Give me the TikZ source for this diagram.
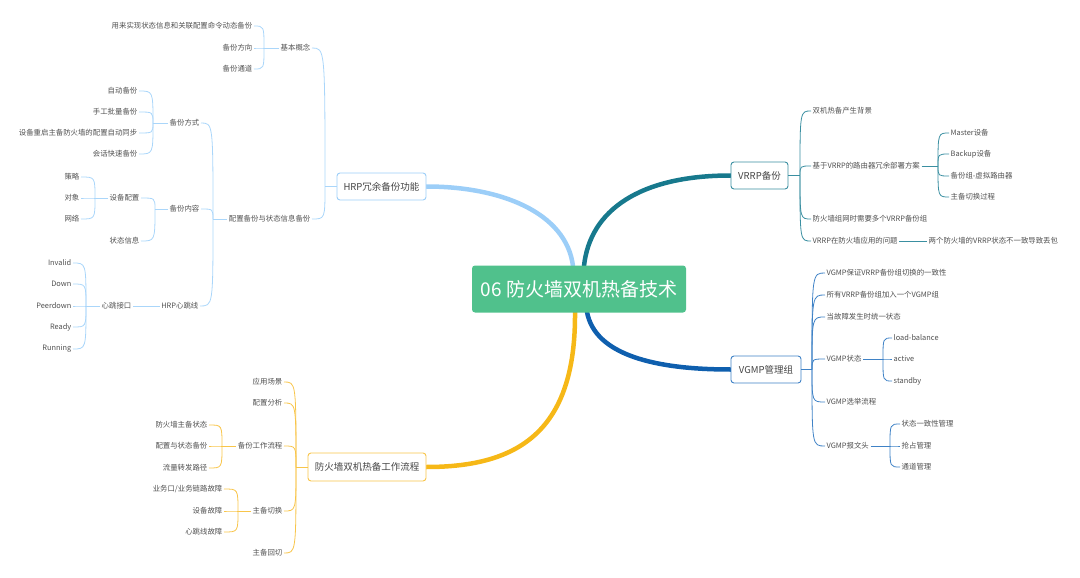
\documentclass[tikz,border=0pt]{standalone}
\usepackage{fontspec}
\setmainfont{Noto Sans CJK SC}
\usetikzlibrary{backgrounds}
\definecolor{tgrey}{HTML}{505050}
\definecolor{bgrey}{HTML}{454545}
\definecolor{mainfill}{HTML}{50C18C}
\definecolor{hrpc}{HTML}{9CCEF8}
\definecolor{hrpt}{HTML}{AAD6FA}
\definecolor{vrc}{HTML}{17798D}
\definecolor{vrt}{HTML}{3A8FA1}
\definecolor{vgc}{HTML}{0F5FAE}
\definecolor{vgt}{HTML}{3F82C6}
\definecolor{wfc}{HTML}{F6B817}
\definecolor{wft}{HTML}{F8C54A}
\newcommand\conn[3]{\draw[#1] (#2) .. controls (#2 |- #3) .. (#3);}
\begin{document}
\begin{tikzpicture}[x=1pt,y=-1pt,
  txt/.style={font=\fontsize{7.4pt}{9pt}\selectfont, text=tgrey, inner sep=1.5pt},
  L/.style={txt, anchor=east},
  R/.style={txt, anchor=west},
  box/.style={draw, rounded corners=3pt, fill=white, line width=0.9pt,
    font=\fontsize{9.5pt}{11pt}\selectfont, text=bgrey, minimum height=27pt, inner sep=0pt},
  mainln/.style={line width=4.5pt, line cap=round},
  hrpl/.style={draw=hrpt, line width=0.8pt},
  vrl/.style={draw=vrt, line width=0.8pt},
  vgl/.style={draw=vgt, line width=0.8pt},
  wfl/.style={draw=wft, line width=0.8pt}]
\useasboundingbox (0,0) rectangle (1080,578);

% ---------- main node and branch boxes ----------
\node[fill=mainfill, rounded corners=3pt, minimum width=214pt, minimum height=47pt,
  text=white, font=\fontsize{19pt}{22pt}\selectfont, inner sep=0pt] (main) at (579,289) {06 防火墙双机热备技术};
\coordinate (mt1) at (573,266);
\coordinate (mt2) at (584,266);
\coordinate (mb1) at (575,312);
\coordinate (mb2) at (587,312);

\node[box, draw=hrpc, minimum width=89pt] (hrp) at (381.5,186.5) {HRP冗余备份功能};
\node[box, draw=vrt, minimum width=57pt] (vr) at (759.5,175.5) {VRRP备份};
\node[box, draw=vgt, minimum width=70pt] (vg) at (766,369.5) {VGMP管理组};
\node[box, draw=wft, minimum width=118pt, minimum height=28pt] (wf) at (367,467) {防火墙双机热备工作流程};

\begin{pgfonlayer}{background}
\draw[mainln, hrpc] (hrp.east) .. controls (500,186.5) and (566,212) .. (mt1);
\draw[mainln, vrc] (mt2) .. controls (590,210) and (640,175.5) .. (vr.west);
\draw[mainln, vgc] (mb2) .. controls (595,355) and (655,369.5) .. (vg.west);
\draw[mainln, wfc] (mb1) .. controls (576,430) and (520,467) .. (wf.east);
\end{pgfonlayer}

% ---------- HRP branch ----------
\coordinate (jhrp) at (325,186.5);
\node[L] (b1) at (312,48) {基本概念};
\node[L] (b1a) at (254,26) {用来实现状态信息和关联配置命令动态备份};
\node[L] (b1b) at (254,48) {备份方向};
\node[L] (b1c) at (254,69) {备份通道};
\coordinate (jb1) at (264,48);
\node[L] (b2) at (312,219) {配置备份与状态信息备份};
\coordinate (jb2) at (213,219);
\node[L] (m) at (201,123) {备份方式};
\coordinate (jm) at (153,123);
\node[L] (m1) at (139,91) {自动备份};
\node[L] (m2) at (139,112) {手工批量备份};
\node[L] (m3) at (139,133) {设备重启主备防火墙的配置自动同步};
\node[L] (m4) at (139,154) {会话快速备份};
\node[L] (c) at (201,209) {备份内容};
\coordinate (jc) at (155,209);
\node[L] (c1) at (141,198) {设备配置};
\coordinate (jc1) at (95,198);
\node[L] (c11) at (81,177) {策略};
\node[L] (c12) at (81,198) {对象};
\node[L] (c13) at (81,219) {网络};
\node[L] (c2) at (141,241) {状态信息};
\node[L] (h) at (200,306) {HRP心跳线};
\node[L] (h1) at (133,306) {心跳接口};
\coordinate (jh1) at (86,306);
\node[L] (s1) at (73,263) {Invalid};
\node[L] (s2) at (73,284) {Down};
\node[L] (s3) at (73,306) {Peerdown};
\node[L] (s4) at (73,327) {Ready};
\node[L] (s5) at (73,349) {Running};

\draw[hrpl] (hrp.west) -- (jhrp);
\foreach \c in {b1,b2} {\conn{hrpl}{jhrp}{\c.east}}
\draw[hrpl] (b1.west) -- (jb1);
\foreach \c in {b1a,b1b,b1c} {\conn{hrpl}{jb1}{\c.east}}
\draw[hrpl] (b2.west) -- (jb2);
\foreach \c in {m,c,h} {\conn{hrpl}{jb2}{\c.east}}
\draw[hrpl] (m.west) -- (jm);
\foreach \c in {m1,m2,m3,m4} {\conn{hrpl}{jm}{\c.east}}
\draw[hrpl] (c.west) -- (jc);
\foreach \c in {c1,c2} {\conn{hrpl}{jc}{\c.east}}
\draw[hrpl] (c1.west) -- (jc1);
\foreach \c in {c11,c12,c13} {\conn{hrpl}{jc1}{\c.east}}
\draw[hrpl] (h.west) -- (h1.east);
\draw[hrpl] (h1.west) -- (jh1);
\foreach \c in {s1,s2,s3,s4,s5} {\conn{hrpl}{jh1}{\c.east}}

% ---------- workflow branch ----------
\coordinate (jwf) at (296,467);
\node[L] (w1) at (284,382) {应用场景};
\node[L] (w2) at (284,403) {配置分析};
\node[L] (w3) at (284,446) {备份工作流程};
\node[L] (w4) at (284,511) {主备切换};
\node[L] (w5) at (284,553) {主备回切};
\coordinate (jw3) at (222,446);
\node[L] (w31) at (209,425) {防火墙主备状态};
\node[L] (w32) at (209,446) {配置与状态备份};
\node[L] (w33) at (209,468) {流量转发路径};
\coordinate (jw4) at (238,511);
\node[L] (w41) at (224,489) {业务口/业务链路故障};
\node[L] (w42) at (224,511) {设备故障};
\node[L] (w43) at (224,532) {心跳线故障};

\draw[wfl] (wf.west) -- (jwf);
\foreach \c in {w1,w2,w3,w4,w5} {\conn{wfl}{jwf}{\c.east}}
\draw[wfl] (w3.west) -- (jw3);
\foreach \c in {w31,w32,w33} {\conn{wfl}{jw3}{\c.east}}
\draw[wfl] (w4.west) -- (jw4);
\foreach \c in {w41,w42,w43} {\conn{wfl}{jw4}{\c.east}}

% ---------- VRRP branch ----------
\coordinate (jvr) at (800,175.5);
\node[R] (v1) at (811,111) {双机热备产生背景};
\node[R] (v2) at (811,166) {基于VRRP的路由器冗余部署方案};
\node[R] (v3) at (811,219) {防火墙组网时需要多个VRRP备份组};
\node[R] (v4) at (811,241) {VRRP在防火墙应用的问题};
\coordinate (jv2) at (938,166);
\node[R] (v21) at (949,133) {Master设备};
\node[R] (v22) at (949,154) {Backup设备};
\node[R] (v23) at (949,176) {备份组-虚拟路由器};
\node[R] (v24) at (949,197) {主备切换过程};
\node[R] (v41) at (927,241) {两个防火墙的VRRP状态不一致导致丢包};

\draw[vrl] (vr.east) -- (jvr);
\foreach \c in {v1,v2,v3,v4} {\conn{vrl}{jvr}{\c.west}}
\draw[vrl] (v2.east) -- (jv2);
\foreach \c in {v21,v22,v23,v24} {\conn{vrl}{jv2}{\c.west}}
\draw[vrl] (v4.east) -- (v41.west);

% ---------- VGMP branch ----------
\coordinate (jvg) at (812,369.5);
\node[R] (g1) at (825,273) {VGMP保证VRRP备份组切换的一致性};
\node[R] (g2) at (825,295) {所有VRRP备份组加入一个VGMP组};
\node[R] (g3) at (825,317) {当故障发生时统一状态};
\node[R] (g4) at (825,359) {VGMP状态};
\node[R] (g5) at (825,402) {VGMP选举流程};
\node[R] (g6) at (825,446) {VGMP报文头};
\coordinate (jg4) at (883,359);
\node[R] (g41) at (892,338) {load-balance};
\node[R] (g42) at (892,359) {active};
\node[R] (g43) at (892,381) {standby};
\coordinate (jg6) at (890,446);
\node[R] (g61) at (900,424) {状态一致性管理};
\node[R] (g62) at (900,446) {抢占管理};
\node[R] (g63) at (900,467) {通道管理};

\draw[vgl] (vg.east) -- (jvg);
\foreach \c in {g1,g2,g3,g4,g5,g6} {\conn{vgl}{jvg}{\c.west}}
\draw[vgl] (g4.east) -- (jg4);
\foreach \c in {g41,g42,g43} {\conn{vgl}{jg4}{\c.west}}
\draw[vgl] (g6.east) -- (jg6);
\foreach \c in {g61,g62,g63} {\conn{vgl}{jg6}{\c.west}}
\end{tikzpicture}
\end{document}
